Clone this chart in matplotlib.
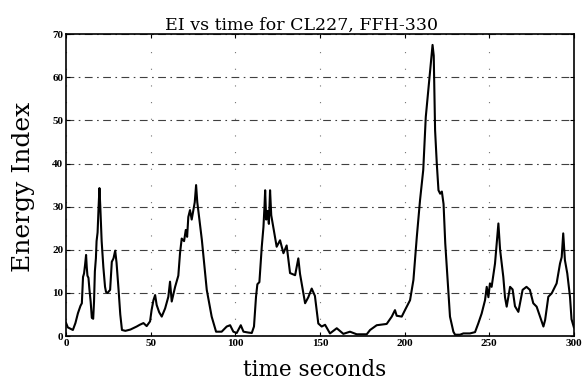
import matplotlib.pyplot as plt

t = [0, 1, 2, 4, 5.5, 7, 8.5, 9.3, 10, 10.6, 11.2, 11.8, 12.2, 12.6, 13.2, 13.8,
     14.5, 15.2, 16, 16.5, 17, 17.6, 18, 18.6, 19.2, 19.7, 20.2, 21, 22, 23, 23.6,
     24.5, 26, 27, 28, 29, 29.8, 31, 32, 33, 35, 38, 41.7, 43.5, 45.7, 47.6, 49.6,
     50.5, 51.6, 52.6, 53.5, 55, 56.5, 58.5, 60.4, 61.4, 62.4, 64.4, 66.3, 67.3,
     68.3, 69.7, 70.7, 71.5, 72.2, 73.2, 74.2, 75.2, 76, 76.8, 77.5, 78.2, 80.2,
     83.1, 86, 88.6, 91.9, 94.9, 96.9, 98.8, 100.8, 103.2, 104.8, 107.7, 109.7,
     111, 112.2, 113, 114.2, 115.6, 116.6, 117.2, 117.6, 118.2, 119, 119.8, 120.5,
     121.2, 122.4, 124.4, 126.4, 128.4, 130.3, 132.3, 135.3, 137.2, 138.2, 141.2,
     143.1, 145.1, 147, 149, 151, 153, 155.9, 159.9, 163.8, 167.7, 171.7, 177.6,
     179.6, 183.5, 189.4, 192.4, 194.3, 195.3, 198.3, 200.2, 203.2, 205.2, 207.2,
     209.1, 211, 212.5, 214, 215.5, 216.5, 217.2, 218, 219, 220, 221, 222, 223,
     224, 225.8, 226.8, 228.8, 229.8, 232.7, 234.7, 238.6, 241.6, 243.5, 245.5,
     247.5, 248.5, 249.5, 250.4, 251.4, 253.4, 254.4, 255.4, 256.4, 258.3, 259.3,
     260.3, 262.3, 263.8, 265.2, 267.2, 269.7, 272, 274, 276, 278, 280, 282, 283,
     284.9, 286.9, 289.8, 291.8, 292.8, 293.7, 294.7, 296.1, 297.7, 298.6, 300]

ei = [3.0, 2.0, 1.8, 1.4, 3.0, 5.3, 7.0, 7.6, 13.7, 14.5, 16.5, 18.8, 16, 14, 13.5, 10.7,
      8, 4.2, 4.0, 8, 15, 18, 22, 24, 30, 34.3, 30, 22, 16, 11.4, 10.2,
      10, 10.7, 17.2, 18, 19.8, 17, 10.7, 5, 1.4, 1.2, 1.5, 2.2, 2.6, 3.0, 2.3, 3.4,
      6, 8.3, 9.5, 7.2, 5.5, 4.5, 6.4, 9.1, 12.6, 8, 11.4, 14, 19.2,
      22.6, 22, 24.6, 23, 27.6, 29.2, 27, 29.2, 31, 35, 31, 28.8, 22.3,
      10.7, 4.5, 1.0, 1.0, 2.2, 2.5, 1.0, 0.7, 2.5, 1.0, 0.8, 0.7,
      2.2, 9.1, 12, 12.5, 20.7, 25.3, 30, 33.8, 27, 29, 26, 33.8,
      28, 25.3, 20.7, 22.2, 19.2, 21, 14.6, 14.1, 18, 14.4, 7.6,
      9, 11, 9.3, 2.9, 2.2, 2.6, 0.6, 1.8, 0.5, 1.0, 0.4, 0.4,
      1.4, 2.5, 2.8, 4.5, 6, 4.7, 4.5, 6, 8.3, 13, 23,
      31.5, 38.5, 50.8, 57, 63, 67.5, 65, 47.7, 40, 33.8, 33, 33.5, 30.6,
      21.5, 10.7, 4.5, 1.0, 0.3, 0.3, 0.6, 0.6, 0.9, 2.9, 5.2,
      8.3, 11.4, 9, 12.2, 11.4, 16.8, 21.5, 26.1, 20, 13.7, 9,
      6.8, 11.4, 10.8, 6.9, 5.6, 10.7, 11.4, 10.7, 7.6, 6.8, 4.5, 2.2, 3.7,
      9.1, 9.9, 12.2, 16.8, 18.3, 23.8, 17.6, 14.5, 9.1, 3.9, 2.0]

xticks = [0, 50, 100, 150, 200, 250, 300]
yticks = [0, 10, 20, 30, 40, 50, 60, 70]

plt.rcParams['font.family'] = 'DejaVu Serif'

fig = plt.figure(figsize=(5.85, 3.88), dpi=100)
ax = fig.add_axes([0.113, 0.134, 0.868, 0.778])

ax.plot(t, ei, color='black', linewidth=1.5)

ax.set_xlim(0, 300)
ax.set_ylim(0, 70)
ax.set_xticks(xticks)
ax.set_yticks(yticks)
ax.tick_params(direction='in', top=True, right=True, length=3, pad=2)
for lab in ax.get_xticklabels() + ax.get_yticklabels():
    lab.set_fontfamily('Liberation Serif')
    lab.set_fontweight('bold')
    lab.set_fontsize(8)

# scanned grid: dash-dot horizontals, barely visible verticals
ax.yaxis.grid(True, linestyle=(0, (7, 4, 1.5, 4)), linewidth=0.8, color='0.25')
ax.xaxis.grid(True, linestyle=(0, (1, 14)), linewidth=0.8, color='0.45')

for s in ax.spines.values():
    s.set_linewidth(1.2)

ax.set_title('EI vs time for CL227, FFH-330', fontsize=12.5, x=0.463, pad=3)
ax.set_xlabel('time seconds', fontsize=15.5)
ax.xaxis.set_label_coords(0.49, -0.075)
ax.set_ylabel('Energy Index', fontsize=18)
ax.yaxis.set_label_coords(-0.061, 0.493)

fig.savefig('out.png', dpi=100)
